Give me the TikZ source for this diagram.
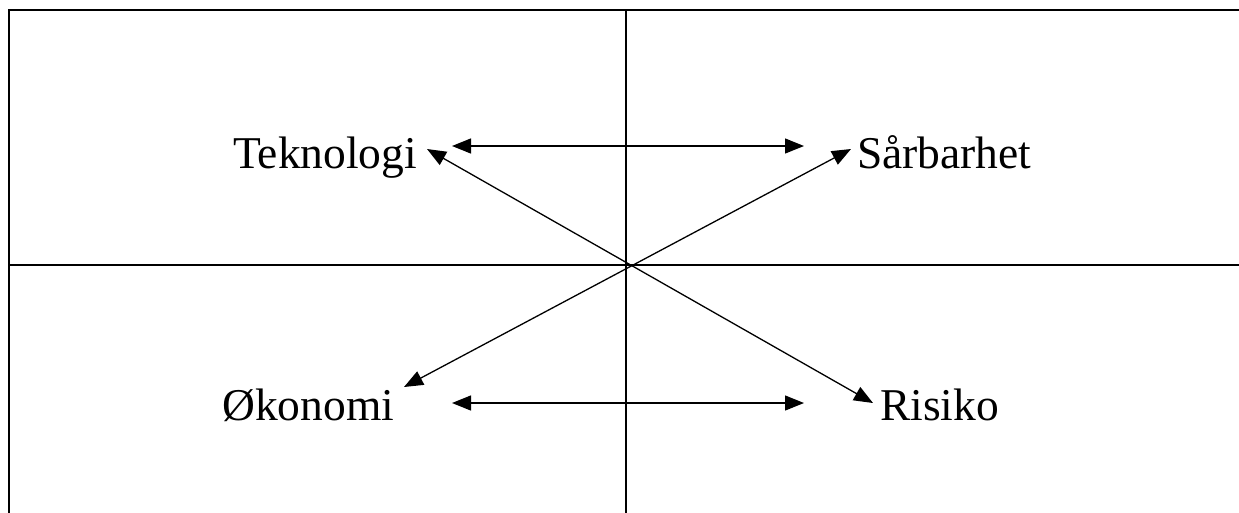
\documentclass[tikz,border=0pt]{standalone}
\usepackage{fontspec}
\setmainfont{Liberation Serif}
\usetikzlibrary{arrows.meta}
\begin{document}
\begin{tikzpicture}[x=1pt,y=-1pt,
  frameline/.style={line width=2pt},
  link/.style={line width=1.3pt,{Triangle[length=19pt,width=15pt]}-{Triangle[length=19pt,width=15pt]}},
  lbl/.style={font=\fontsize{45.5}{50}\selectfont,inner sep=0pt,anchor=base west}]
\useasboundingbox (0,0) rectangle (1239,512);
% frame and cross
\coordinate (tl) at (9,10);
\coordinate (tr) at (1240,10);
\coordinate (bl) at (9,513);
\coordinate (ml) at (9,265);
\coordinate (mr) at (1240,265);
\coordinate (mt) at (626,10);
\coordinate (mb) at (626,513);
\draw[frameline] (bl) -- (tl) -- (tr);
\draw[frameline] (ml) -- (mr);
\draw[frameline] (mt) -- (mb);
% labels
\node[lbl] (tek) at (233,168) {Teknologi};
\node[lbl] (sar) at (857,168) {Sårbarhet};
\node[lbl] (oko) at (222,420) {Økonomi};
\node[lbl] (ris) at (880,420) {Risiko};
% arrow endpoints
\coordinate (t1) at (452,146);
\coordinate (t2) at (804,146);
\coordinate (b1) at (452,403);
\coordinate (b2) at (804,403);
\coordinate (d1) at (427,149);
\coordinate (d2) at (873,403);
\coordinate (e1) at (404,387);
\coordinate (e2) at (851,149);
\draw[link] (t1) -- (t2);
\draw[link] (b1) -- (b2);
\draw[link] (d1) -- (d2);
\draw[link] (e1) -- (e2);
\end{tikzpicture}
\end{document}
